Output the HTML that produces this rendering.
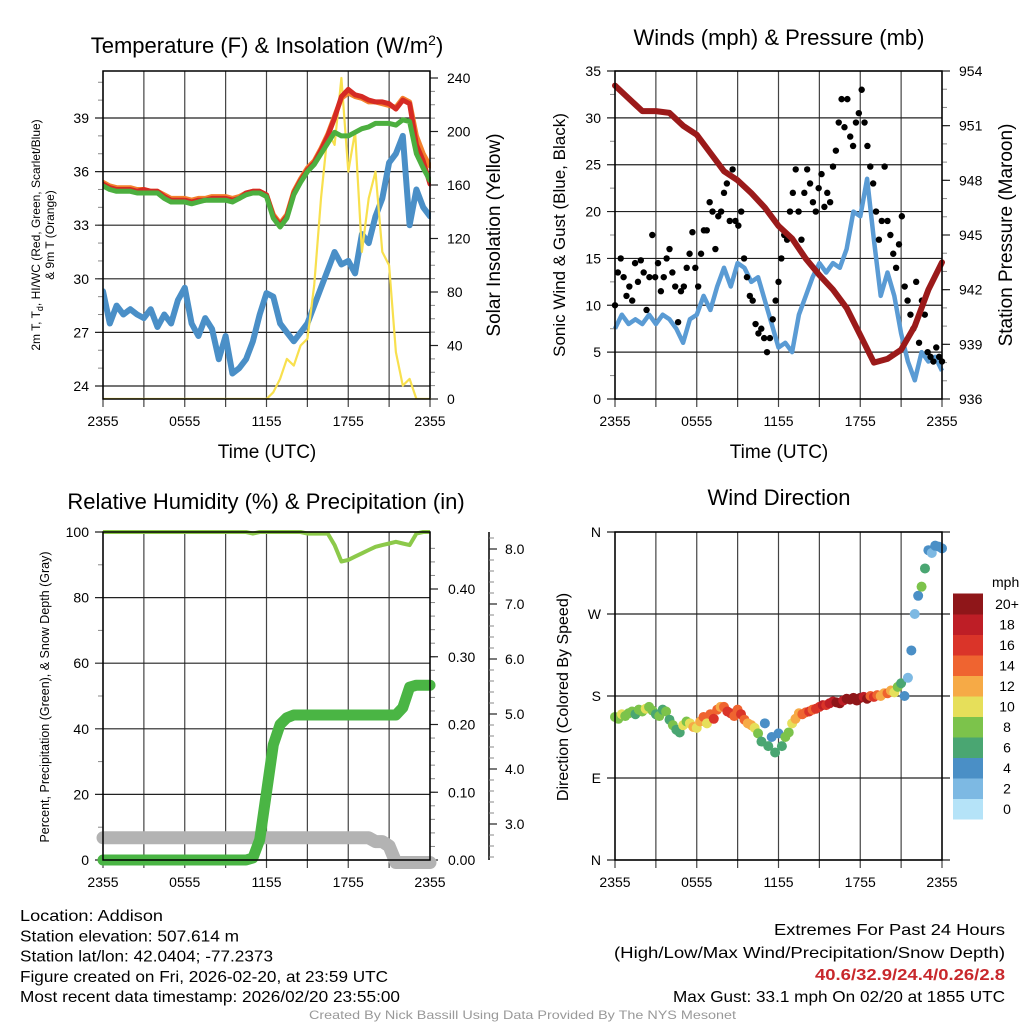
<!DOCTYPE html>
<html><head><meta charset="utf-8"><style>
html,body{margin:0;padding:0;background:#fff}
svg{display:block;font-family:"Liberation Sans",sans-serif}
</style></head><body>
<svg id="c" width="1024" height="1024" viewBox="0 0 1024 1024"></svg>
<script>
// ---- data (half-hourly unless noted) ----
const tempRed=[35.3,35.1,35.0,35.0,35.0,34.9,35.0,34.9,34.9,34.6,34.4,34.4,34.4,34.3,34.4,34.4,34.5,34.5,34.5,34.4,34.5,34.8,34.9,34.9,34.7,33.5,33.0,33.5,34.8,35.5,36.1,36.5,37.2,38.0,39.0,40.2,40.6,40.3,40.2,40.0,39.9,39.9,39.8,39.5,40.0,39.8,37.5,36.6,35.3];
const tempOrange=[35.4,35.2,35.1,35.1,35.1,35.0,35.0,34.9,34.9,34.7,34.5,34.5,34.5,34.4,34.5,34.5,34.6,34.6,34.6,34.5,34.6,34.8,34.9,34.9,34.7,33.6,33.1,33.6,34.9,35.6,36.2,36.6,37.3,38.1,39.1,40.1,40.4,40.2,40.1,39.9,39.9,39.8,39.7,39.6,40.1,39.9,38.0,37.0,36.3];
const tempGreen=[35.2,35.0,34.9,34.9,34.9,34.8,34.8,34.8,34.8,34.5,34.3,34.3,34.3,34.2,34.3,34.4,34.4,34.4,34.4,34.3,34.5,34.7,34.8,34.8,34.6,33.4,32.9,33.4,34.7,35.4,36.0,36.4,37.0,37.6,38.2,38.0,38.0,38.2,38.4,38.5,38.7,38.7,38.7,38.6,38.9,38.8,37.0,36.2,35.5];
const tempBlue=[29.3,27.5,28.5,28.0,28.3,28.0,27.8,28.3,27.3,28.0,27.5,28.8,29.5,27.5,26.8,27.8,27.2,25.5,26.8,24.7,25.0,25.5,26.5,28.0,29.2,29.0,27.5,27.0,26.5,27.0,27.5,28.5,29.5,30.5,31.5,30.8,31.0,30.3,32.5,32.0,33.5,34.5,36.5,37.0,38.0,33.0,35.0,34.0,33.5];
const solar=[0,0,0,0,0,0,0,0,0,0,0,0,0,0,0,0,0,0,0,0,0,0,0,0,0,5,15,30,25,40,45,85,150,200,190,240,170,200,110,150,170,110,100,35,10,15,0,0,0];
const windSonic=[7.5,9,8,8.5,8,9,8,9,8.5,7.5,6,8.5,9,11,9.5,12,14,12,14.5,14,12.5,13,10.5,8,5.5,6,5,9,11,13,14.5,13.5,14.5,14,16,20,19.5,23.5,17,11,13.5,11,7,4,2,5,4,4.5,3];
const gusts=[10,13.5,15,13,11,12,10.5,14.5,12.5,14.8,13.5,9.5,13,17.5,13,14.5,11.5,13,15,16,13.5,12,8.2,11.5,12,14,15.5,17.8,14,12,15.5,18,18,21,20,16,19.5,20,22,23,19,24.5,19,18.5,20,15,13,11,10.5,8,7,7.5,6.5,5,6.5,8.5,10.5,12.5,15,17.5,17,20,22,24.5,20,17,22,24.5,23,21,20,22.5,24,20.5,22,21,24.8,26.5,29.5,32,29,32,28,27,29.5,30.5,33,29.5,27,24.8,23,20,17,19,24.8,19,17.5,15.5,14,16.5,19.5,12,10.5,9,7.5,12.5,6,10.5,9,5,4.5,4,5.5,4.5,4];
// hourly
const pressure=[953.2,952.5,951.8,951.8,951.7,951.0,950.5,949.5,948.5,948.0,947.3,946.5,945.5,944.8,943.7,942.8,942.0,941.0,939.5,938.0,938.2,938.7,940.0,942.0,943.5];
const rh=[100,100,100,100,100,100,100,100,100,100,100,100,100,100,100,100,100,100,100,100,100,100,99.5,100,100,100,100,100,100,100,99.5,99.5,99.5,99.5,96,91,91.5,92.5,93.5,94.5,95.5,96,96.5,97,96.5,96,99.5,100,100];
const precip=[0,0,0,0,0,0,0,0,0,0,0,0,0,0,0,0,0,0,0,0,0,0,0.003,0.03,0.1,0.17,0.2,0.21,0.214,0.214,0.214,0.214,0.214,0.214,0.214,0.214,0.214,0.214,0.214,0.214,0.214,0.214,0.214,0.214,0.225,0.255,0.258,0.258,0.258];
const snow=[2.75,2.75,2.75,2.75,2.75,2.75,2.75,2.75,2.75,2.75,2.75,2.75,2.75,2.75,2.75,2.75,2.75,2.75,2.75,2.75,2.75,2.75,2.75,2.75,2.75,2.75,2.75,2.75,2.75,2.75,2.75,2.75,2.75,2.75,2.75,2.75,2.75,2.75,2.75,2.75,2.68,2.68,2.6,2.3,2.3,2.3,2.3,2.3,2.3];
// quarter-hourly
const windDir=[157,155,160,158,161,163,160,165,163,166,168,164,160,158,165,163,154,148,143,140,148,152,150,146,145,152,157,150,160,155,165,168,168,163,161,158,165,160,154,150,148,145,139,130,150,125,135,118,139,125,135,140,150,155,161,160,162,163,165,166,168,170,170,172,174,173,172,175,177,176,178,175,178,179,177,180,179,181,180,183,183,186,184,190,194,180,200,230,270,290,300,320,340,337,345,344,342];
const windSpd=[8,8,10,8,8,8,6,8,8,10,8,8,6,8,6,8,6,8,6,6,10,8,10,12,10,12,14,10,14,16,14,12,14,16,16,14,14,16,14,12,12,10,8,6,4,6,4,6,4,6,8,8,10,12,12,14,14,16,14,16,16,18,16,18,18,20,20,18,20,20,20,20,20,18,20,14,16,14,12,12,14,12,10,8,6,4,2,4,2,4,8,6,4,2,4,4,4];
const legendLabels=["0","2","4","6","8","10","12","14","16","18","20+"];
const legendColors=["#b5e3f8","#7db9e3","#4a8fc6","#4aa672","#7cc34b","#e6df5a","#f6aa46","#ef6430","#da3429","#be1e26","#8f1619"];
const timeLabels=["2355","","0555","","1155","","1755","","2355"];

const svg=document.getElementById('c');
const NS='http://www.w3.org/2000/svg';
function mk(tag,attrs,parent,txt){const e=document.createElementNS(NS,tag);for(const k in attrs)e.setAttribute(k,attrs[k]);if(txt!==undefined)e.textContent=txt;(parent||svg).appendChild(e);return e;}
function lin(d0,d1,r0,r1){return v=>r0+(v-d0)/(d1-d0)*(r1-r0);}
function path(xs,ys,vals,tf){return vals.map((v,i)=>(i?'L':'M')+xs(tf(i)).toFixed(1)+','+ys(v).toFixed(1)).join('');}

function panel(name,x0,x1,y0,y1,leftTicks,leftLabels,ys,minors){
  const g=mk('g',{});
  
  
  const xs=lin(0,24,x0,x1);
  for(let i=0;i<=8;i++){const x=xs(i*3);
    const l=mk('line',{x1:x,x2:x,y1:y0,y2:y1+8,stroke:'#444','stroke-width':1.2},g);
    
    if(timeLabels[i]){const t=mk('text',{x:x,y:y1+27,'font-size':14,'text-anchor':'middle'},g,timeLabels[i]);
      }
  }
  (minors||[]).forEach(v=>mk('line',{x1:x0-5,x2:x0,y1:ys(v),y2:ys(v),stroke:'#888','stroke-width':1},g));
  leftTicks.forEach((v,i)=>{const y=ys(v);
    const l=mk('line',{x1:x0-8,x2:x1+(name==='wind-direction-panel'?8:0),y1:y,y2:y,stroke:'#222','stroke-width':1.2},g);
    
    const t=mk('text',{x:x0-14,y:y+5,'font-size':14,'text-anchor':'end'},g,leftLabels[i]);
    
  });
  return {g,xs};
}
function frame(x0,x1,y0,y1){const r=mk('rect',{x:x0,y:y0,width:x1-x0,height:y1-y0,fill:'none',stroke:'#000','stroke-width':1.5});
  }
function rightAxis(x,vals,labels,ys,minors,lx){
  (minors||[]).forEach(v=>mk('line',{x1:x,x2:x+5,y1:ys(v),y2:ys(v),stroke:'#888','stroke-width':1}));
  vals.forEach((v,i)=>{const y=ys(v);mk('line',{x1:x,x2:x+8,y1:y,y2:y,stroke:'#222','stroke-width':1.2});
    const t=mk('text',{x:lx||x+17,y:y+5,'font-size':14},svg,labels[i]);
    });
}
function title(x,y,txt,size,name,rot){const a={x:x,y:y,'font-size':size,'text-anchor':'middle'};if(rot)a.transform=`rotate(-90 ${x} ${y})`;
  const t=mk('text',a,svg,txt);return t;}
const half=i=>i*0.5, hourly=i=>i, quarter=i=>i*0.25;

// ===== Panel 1: temperature =====
{const x0=103,x1=430,y0=71,y1=399;
 const ys=lin(24,39,386,118), ysR=lin(0,240,399,78);
 const mins=[];for(let v=24;v<=41;v++)mins.push(v);
 const {xs}=panel('temperature-panel',x0,x1,y0,y1,[24,27,30,33,36,39],['24','27','30','33','36','39'],ys,mins);
 const rm=[];for(let v=0;v<=240;v+=10)rm.push(v);
 rightAxis(x1,[0,40,80,120,160,200,240],['0','40','80','120','160','200','240'],ysR,rm);
 const cp=mk('clipPath',{id:'cp1'});mk('rect',{x:x0,y:y0-5,width:x1-x0+1,height:y1-y0+5},cp);
 const series=[[tempBlue,'#4a8fc7',6,ys,'dewpoint-line'],[solar,'#f8e04e',2.2,ysR,'insolation-line'],[tempOrange,'#f4812d',5,ys,'9m-temp-line'],[tempRed,'#d52a24',5,ys,'2m-temp-line'],[tempGreen,'#4caf3f',5,ys,'wind-chill-line']];
 series.forEach(s=>{const p=mk('path',{d:path(xs,s[3],s[0],half),fill:'none',stroke:s[1],'stroke-width':s[2],'stroke-linejoin':'round','stroke-linecap':'round','clip-path':'url(#cp1)'});
   });
 frame(x0,x1,y0,y1);
 const t=mk('text',{x:267,y:53,'font-size':22,'text-anchor':'middle'});
 t.innerHTML='Temperature (F) &amp; Insolation (W/m<tspan dy="-8" font-size="14">2</tspan><tspan dy="8">)</tspan>';
 const lt=mk('text',{x:40,y:235,'font-size':12,'text-anchor':'middle',transform:'rotate(-90 40 235)'});
 lt.innerHTML='2m T, T<tspan dy="3" font-size="9">d</tspan><tspan dy="-3">, HI/WC (Red, Green, Scarlet/Blue)</tspan>';
 title(54,235,'& 9m T (Orange)',12,'temperature-y-title-2',true);
 title(500,235,'Solar Insolation (Yellow)',19,'insolation-y-title',true);
 title(267,458,'Time (UTC)',19,'x-axis-title');
}
// ===== Panel 2: winds =====
{const x0=615,x1=942,y0=71,y1=399;
 const ys=lin(0,35,399,71), ysR=lin(936,954,399,71);
 const {xs}=panel('winds-panel',x0,x1,y0,y1,[0,5,10,15,20,25,30,35],['0','5','10','15','20','25','30','35'],ys,[2.5,7.5,12.5,17.5,22.5,27.5,32.5]);
 const rm=[];for(let v=936;v<=954;v++)rm.push(v);
 rightAxis(x1,[936,939,942,945,948,951,954],['936','939','942','945','948','951','954'],ysR,rm);
 const p=mk('path',{d:path(xs,ys,windSonic,half),fill:'none',stroke:'#5a9bd4','stroke-width':4.5,'stroke-linejoin':'round'});
 
 const n=gusts.length;
 gusts.forEach((v,i)=>{const c=mk('circle',{cx:xs(i/(n-1)*24),cy:ys(v),r:3.2,fill:'#000'});
   });
 const pp=mk('path',{d:path(xs,ysR,pressure,hourly),fill:'none',stroke:'#9b1a1a','stroke-width':6,'stroke-linejoin':'round','stroke-linecap':'round'});
 
 frame(x0,x1,y0,y1);
 title(779,45,'Winds (mph) & Pressure (mb)',22,'winds-title');
 title(565,235,'Sonic Wind & Gust (Blue, Black)',17,'wind-y-title',true);
 title(1012,235,'Station Pressure (Maroon)',19,'pressure-y-title',true);
 title(779,458,'Time (UTC)',19,'x-axis-title');
}
// ===== Panel 3: RH & precip =====
{const x0=103,x1=430,y0=532,y1=860;
 const ys=lin(0,100,860,532), ysP=lin(0,0.4,860,589), ysS=lin(3,8,824,549);
 const {xs}=panel('humidity-panel',x0,x1,y0,y1,[0,20,40,60,80,100],['0','20','40','60','80','100'],ys,[10,30,50,70,90]);
 const pm=[];for(let v=0;v<=0.48;v+=0.02)pm.push(v);
 rightAxis(x1,[0,0.1,0.2,0.3,0.4],['0.00','0.10','0.20','0.30','0.40'],ysP,pm.filter(v=>ysP(v)>=532),448);
 mk('line',{x1:489,x2:489,y1:532,y2:860,stroke:'#000','stroke-width':1.5});
 const sm=[];for(let v=2.4;v<=8.3;v+=0.2)sm.push(v);
 rightAxis(489,[3,4,5,6,7,8],['3.0','4.0','5.0','6.0','7.0','8.0'],ysS,sm.filter(v=>ysS(v)>=532&&ysS(v)<=860),505);
 const sp=mk('path',{d:path(xs,ysS,snow,half),fill:'none',stroke:'#b3b3b3','stroke-width':13,'stroke-linejoin':'round','stroke-linecap':'round'});
 
 const pr=mk('path',{d:path(xs,ysP,precip,half),fill:'none',stroke:'#4ab544','stroke-width':11,'stroke-linejoin':'round','stroke-linecap':'round'});
 
 const rl=mk('path',{d:path(xs,ys,rh,half),fill:'none',stroke:'#8cc94a','stroke-width':4,'stroke-linejoin':'round'});
 
 frame(x0,x1,y0,y1);
 title(266,509,'Relative Humidity (%) & Precipitation (in)',22,'humidity-title');
 title(49,697,'Percent, Precipitation (Green), & Snow Depth (Gray)',12.5,'humidity-y-title',true);
}
// ===== Panel 4: wind direction =====
{const x0=615,x1=942,y0=532,y1=860;
 const ys=lin(0,360,860,532);
 const {xs}=panel('wind-direction-panel',x0,x1,y0,y1,[0,90,180,270,360],['N','E','S','W','N'],ys,[]);
 function col(s){return legendColors[Math.min(10,Math.floor(s/2))];}
 windDir.forEach((d,i)=>{const c=mk('circle',{cx:xs(quarter(i)),cy:ys(d),r:5,fill:col(windSpd[i])});
   });
 frame(x0,x1,y0,y1);
 title(779,505,'Wind Direction',22,'wind-direction-title');
 title(568,697,'Direction (Colored By Speed)',16,'direction-y-title',true);
 const lg=mk('g',{});
 const bh=20.5;
 legendLabels.forEach((l,i)=>{const y=819-(i+1)*bh;
   const r=mk('rect',{x:953,y:y,width:30,height:bh+0.5,fill:legendColors[i]},lg);
   
   const t=mk('text',{x:1007,y:y+bh/2+5,'font-size':14,'text-anchor':'middle'},lg,l);
   });
 const u=mk('text',{x:992,y:587,'font-size':14},lg,'mph');
}
// ===== footer =====
const leftLines=[['Location: Addison',143],['Station elevation: 507.614 m',219],['Station lat/lon: 42.0404; -77.2373',253],['Figure created on Fri, 2026-02-20, at 23:59 UTC',368],['Most recent data timestamp: 2026/02/20 23:55:00',380]];
leftLines.forEach((l,i)=>{const t=mk('text',{x:20,y:921+i*20.3,'font-size':16,textLength:l[1],lengthAdjust:'spacingAndGlyphs'},svg,l[0]);
  });
const rightLines=[['Extremes For Past 24 Hours',231,'#000','normal',935],['(High/Low/Max Wind/Precipitation/Snow Depth)',391,'#000','normal',958],['40.6/32.9/24.4/0.26/2.8',190,'#c8282c','bold',980],['Max Gust: 33.1 mph On 02/20 at 1855 UTC',332,'#000','normal',1002]];
rightLines.forEach(l=>{const t=mk('text',{x:1005-l[1],y:l[4],'font-size':16,fill:l[2],'font-weight':l[3],textLength:l[1],lengthAdjust:'spacingAndGlyphs'},svg,l[0]);
  });
const cr=mk('text',{x:309,y:1019,'font-size':12,fill:'#999',textLength:427,lengthAdjust:'spacingAndGlyphs'},svg,'Created By Nick Bassill Using Data Provided By The NYS Mesonet');

</script>
</body></html>
